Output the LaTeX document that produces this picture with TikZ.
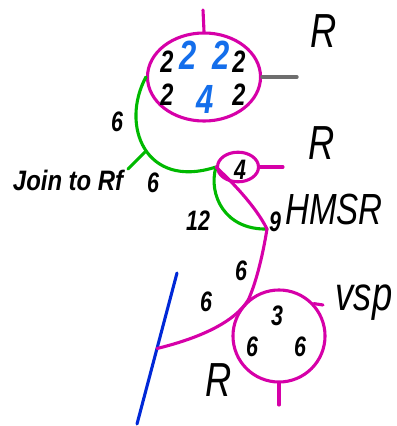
\documentclass[tikz,border=0pt]{standalone}
\usepackage{fontspec}
\setmainfont{Liberation Sans}
\newfontfamily\cadfont[FakeStretch=0.76]{Liberation Sans}
\newfontfamily\cadwide[FakeStretch=0.85]{Liberation Sans}
\usetikzlibrary{shapes.geometric}
\definecolor{ringmag}{RGB}{214,0,168}
\definecolor{ringgreen}{RGB}{0,185,0}
\definecolor{bondblue}{RGB}{0,40,215}
\definecolor{ringnum}{RGB}{20,110,235}
\definecolor{stubgray}{RGB}{110,110,110}
\begin{document}
\begin{tikzpicture}[x=0.025cm,y=-0.025cm,line cap=round,
  mag/.style={draw=ringmag,line width=2.2pt},
  grn/.style={draw=ringgreen,line width=2.2pt},
  big/.style={font=\cadfont\fontsize{34}{36}\selectfont\itshape},
  num/.style={font=\cadfont\fontsize{20}{21}\selectfont\itshape\bfseries},
  bnum/.style={font=\cadfont\fontsize{29}{30}\selectfont\itshape\bfseries,text=ringnum}]
\useasboundingbox (0,0) rectangle (396,426);
% rings
\node[mag,ellipse,minimum width=2.825cm,minimum height=2.2cm,inner sep=0] (top) at (204,77) {};
\node[mag,ellipse,minimum width=1.025cm,minimum height=0.74cm,inner sep=0] (mid) at (238,167) {};
\node[mag,circle,minimum size=2.3cm,inner sep=0] (bot) at (279,336) {};
\coordinate (j9) at (267,229);
\coordinate (bt) at (177,273);
\coordinate (bb) at (137,424);
% stubs
\coordinate (topstub) at (203,10);
\coordinate (graystub) at (297,77);
\coordinate (midstub) at (283,167);
\coordinate (vspstub) at (323,305);
\coordinate (botstub) at (279,405);
\draw[mag] (top.north) -- (topstub);
\draw[draw=stubgray,line width=2.4pt] (top.east) -- (graystub);
\draw[mag] (mid.east) -- (midstub);
\draw[mag] (bot.43) -- (vspstub);
\draw[mag] (bot.south) -- (botstub);
% connectors
\draw[grn] (top.west) .. controls (120,125) and (145,190) .. coordinate[pos=0.52] (rf) (mid.west);
\coordinate (rfend) at (128,169);
\draw[grn] (rf) -- (rfend);
\draw[grn] (mid.west) .. controls (208,195) and (225,230) .. (j9);
\draw[mag] (mid.west) .. controls (230,180) and (255,205) .. (j9);
\draw[mag] (j9) .. controls (262,260) and (255,285) .. (bot.130);
\draw[draw=bondblue,line width=2.2pt] (bt) -- coordinate[pos=0.5] (bm) (bb);
\draw[mag] (bm) .. controls (200,338) and (235,322) .. (bot.130);
% labels
\node[num,font=\cadfont\fontsize{22}{23}\selectfont\itshape\bfseries] (t1) at (167,62) {2};
\node[bnum] (t2) at (188,55) {2};
\node[bnum] (t3) at (221,55) {2};
\node[num,font=\cadfont\fontsize{22}{23}\selectfont\itshape\bfseries] (t4) at (239,62) {2};
\node[num,font=\cadfont\fontsize{22}{23}\selectfont\itshape\bfseries] (t5) at (167,95) {2};
\node[bnum] (t6) at (205,99) {4};
\node[num,font=\cadfont\fontsize{22}{23}\selectfont\itshape\bfseries] (t7) at (239,95) {2};
\node[big] (r1) at (324,31) {R};
\node[big] (r2) at (322,143) {R};
\node[big,font=\cadfont\fontsize{31}{33}\selectfont\itshape] (hmsr) at (334,209) {HMSR};
\node[big] (vsp) at (364,303) {vsp};
\node[big] (r3) at (219,380) {R};
\node[num] (n6a) at (117,122) {6};
\node[num] (n6b) at (153,183) {6};
\node[num,font=\cadwide\fontsize{20}{21}\selectfont\itshape\bfseries,anchor=west] (join) at (8,180) {Join to Rf};
\node[num] (n4) at (240,170) {4};
\node[num] (n12) at (198,221) {12};
\node[num] (n9) at (275,222) {9};
\node[num] (n6c) at (241,271) {6};
\node[num] (n6d) at (206,302) {6};
\node[num] (n3) at (277,316) {3};
\node[num] (n6e) at (252,347) {6};
\node[num] (n6f) at (300,347) {6};
\end{tikzpicture}
\end{document}
